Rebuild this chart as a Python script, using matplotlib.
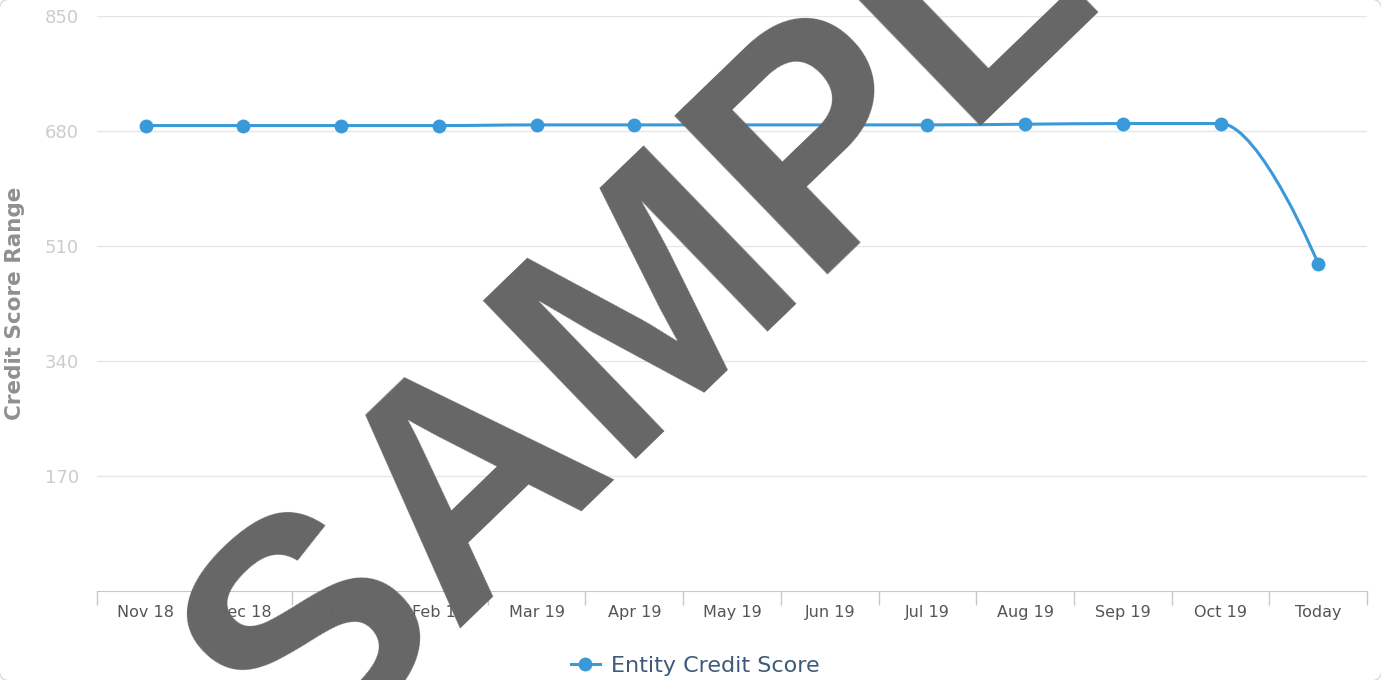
import numpy as np
from matplotlib import pyplot as plt
from matplotlib.path import Path
from matplotlib.patches import PathPatch, FancyBboxPatch
from matplotlib.lines import Line2D

months = ['Nov 18', 'Dec 18', 'Jan 19', 'Feb 19', 'Mar 19', 'Apr 19', 'May 19',
          'Jun 19', 'Jul 19', 'Aug 19', 'Sep 19', 'Oct 19', 'Today']
scores = [688, 688, 688, 688, 689, 689, 689, 689, 689, 690, 691, 691, 484]
y_ticks = [170, 340, 510, 680, 850]
series_name = 'Entity Credit Score'
y_title = 'Credit Score Range'

blue = '#3a9ad9'


def spline_path(xs, ys, smoothing=1.5):
    # highcharts style spline: bezier control points from neighbours
    n = len(xs)
    denom = smoothing + 1
    left = [None] * n
    right = [None] * n
    for i in range(n):
        px, py = xs[i], ys[i]
        if i == 0 or i == n - 1:
            left[i] = (px, py)
            right[i] = (px, py)
            continue
        lx = (smoothing * px + xs[i - 1]) / denom
        ly = (smoothing * py + ys[i - 1]) / denom
        rx = (smoothing * px + xs[i + 1]) / denom
        ry = (smoothing * py + ys[i + 1]) / denom
        corr = (ry - ly) * (rx - px) / (rx - lx) + py - ry
        ly += corr
        ry += corr
        if ly > ys[i - 1] and ly > py:
            ly = max(ys[i - 1], py)
            ry = 2 * py - ly
        elif ly < ys[i - 1] and ly < py:
            ly = min(ys[i - 1], py)
            ry = 2 * py - ly
        if ry > ys[i + 1] and ry > py:
            ry = max(ys[i + 1], py)
            ly = 2 * py - ry
        elif ry < ys[i + 1] and ry < py:
            ry = min(ys[i + 1], py)
            ly = 2 * py - ry
        left[i] = (lx, ly)
        right[i] = (rx, ry)
    verts = [(xs[0], ys[0])]
    codes = [Path.MOVETO]
    for i in range(1, n):
        verts += [right[i - 1], left[i], (xs[i], ys[i])]
        codes += [Path.CURVE4] * 3
    return Path(verts, codes)


fig = plt.figure(figsize=(13.81, 6.8), dpi=100)
ax = fig.add_axes([0.0702, 0.1309, 0.9197, 0.8456])

x = np.arange(len(months))
ax.add_patch(PathPatch(spline_path(list(x), scores), fill=False,
                       edgecolor=blue, linewidth=2.2, zorder=3))
ax.plot(x, scores, 'o', color=blue, markersize=10, markeredgewidth=0, zorder=4)

ax.set_xlim(-0.5, len(months) - 0.5)
ax.set_ylim(0, 850)
ax.set_yticks(y_ticks)
ax.set_yticklabels([str(v) for v in y_ticks])
ax.grid(axis='y', color='#e6e6e6', linewidth=1)
ax.set_axisbelow(True)

ax.set_xticks(x)
ax.set_xticklabels(months)
ax.set_xticks(np.arange(-0.5, len(months), 1), minor=True)
ax.tick_params(axis='x', which='major', length=0, pad=10, labelsize=11.5,
               labelcolor='#555555')
ax.tick_params(axis='x', which='minor', length=10, color='#c8c8c8', width=1)
ax.tick_params(axis='y', length=0, pad=13, labelsize=13, labelcolor='#cccccc')

for s in ['top', 'right', 'left']:
    ax.spines[s].set_visible(False)
ax.spines['bottom'].set_color('#c8c8c8')

ax.set_ylabel(y_title, fontsize=15.5, fontweight='bold', color='#909090')
ax.yaxis.set_label_coords(-0.0567, 0.5)

handle = Line2D([], [], color=blue, linewidth=2.2, marker='o', markersize=10,
                markeredgewidth=0)
ax.legend([handle], [series_name], loc='center', bbox_to_anchor=(0.471, -0.13),
          frameon=False, fontsize=16, labelcolor='#3d5a7a', handlelength=1.3,
          handletextpad=0.5)

# container border, only the rounded corners show
fig.patches.append(FancyBboxPatch((-1, -1), 1383, 682, boxstyle='round,pad=0,rounding_size=12',
                                  transform=None, facecolor='none',
                                  edgecolor='#d8d8d8', linewidth=1))

fig.text(0.522, 0.628, 'SAMPLE', fontsize=230, fontweight='bold',
         family='Liberation Sans', color='#666666', rotation=44,
         ha='center', va='center', rotation_mode='anchor', zorder=10)

fig.savefig('out.png', dpi=100)
